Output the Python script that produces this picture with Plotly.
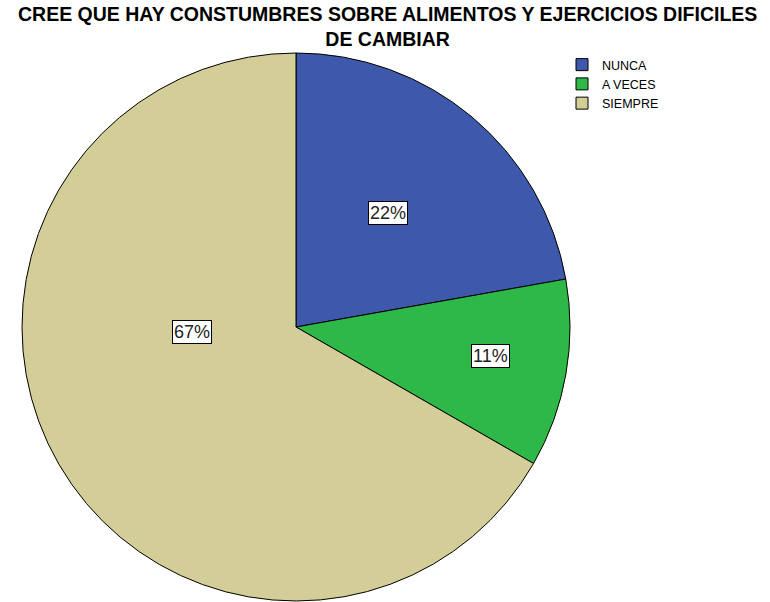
import plotly.graph_objects as go

categories = ["NUNCA", "A VECES", "SIEMPRE"]
values = [22.2, 11.1, 66.7]
colors = ["#3E58AC", "#2EB848", "#D3CE97"]
label_texts = ["22%", "11%", "67%"]
title_lines = ["CREE QUE HAY CONSTUMBRES SOBRE ALIMENTOS Y EJERCICIOS DIFICILES", "DE CAMBIAR"]
# label positions (paper coords) for the boxed percentage labels
label_pos = [(388 / 770, 1 - 213 / 602), (490 / 770, 1 - 356 / 602), (192 / 770, 1 - 332 / 602)]

fig = go.Figure(go.Pie(
    labels=categories,
    values=values,
    sort=False,
    direction="clockwise",
    rotation=0,
    marker=dict(colors=colors, line=dict(color="black", width=1)),
    textinfo="none",
    hoverinfo="label+percent",
    domain=dict(x=[22 / 770, 570 / 770], y=[1 - 601 / 602, 1 - 53 / 602]),
))

for t, (x, y) in zip(label_texts, label_pos):
    fig.add_annotation(x=x, y=y, xref="paper", yref="paper", xanchor="center", yanchor="middle",
                       text=t, showarrow=False,
                       font=dict(family="Liberation Sans, Arial", size=18, color="#222"),
                       bgcolor="white", bordercolor="black", borderwidth=1, borderpad=1)

fig.add_annotation(x=387 / 770, y=1, xref="paper", yref="paper", xanchor="center", yanchor="top",
                   yshift=-1, showarrow=False,
                   text="<b>" + "<br>".join(title_lines) + "</b>",
                   font=dict(family="Liberation Sans, Arial", size=19.5, color="black"))

fig.update_layout(
    width=770, height=602,
    margin=dict(l=0, r=0, t=0, b=0),
    paper_bgcolor="white",
    legend=dict(x=562 / 770, y=1 - 50 / 602, xanchor="left", yanchor="top",
                font=dict(family="Liberation Sans, Arial", size=12.5, color="black"),
                itemwidth=30, tracegroupgap=0, bgcolor="rgba(0,0,0,0)"),
)

fig.write_html("out.html")
